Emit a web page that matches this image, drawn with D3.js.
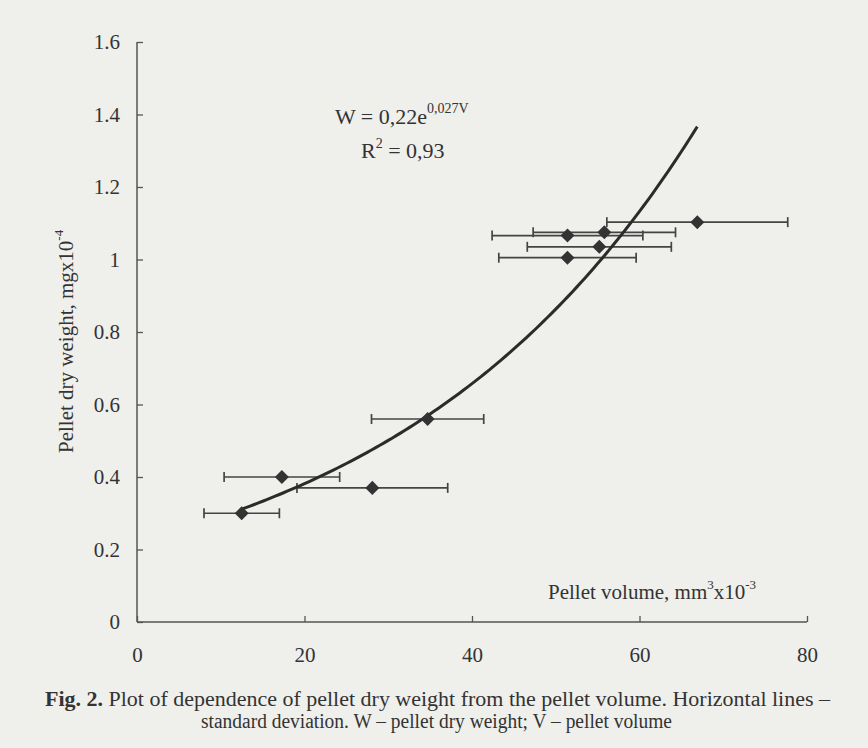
<!DOCTYPE html>
<html>
<head>
<meta charset="utf-8">
<script src="https://cdn.jsdelivr.net/npm/d3@7"></script>
<style>
  html, body { margin: 0; padding: 0; background: #efefec; }
  svg { display: block; }
  text { font-family: "Liberation Serif", "DejaVu Serif", serif; fill: #333; }
</style>
</head>
<body>
<svg id="chart" width="868" height="748"></svg>
<script>
// ---- data ----
const volume   = [12.5, 17.3, 28.1, 34.7, 51.4, 55.2, 51.4, 55.8, 66.9];   // V, mm3 x10^-3
const weight   = [0.30, 0.40, 0.37, 0.56, 1.005, 1.035, 1.066, 1.075, 1.103]; // W, mg x10^-4
const volumeSD = [4.5, 6.9, 9.0, 6.7, 8.2, 8.6, 9.0, 8.5, 10.8];           // horizontal SD
const xTicks = [0, 20, 40, 60, 80];
const yTicks = [0, 0.2, 0.4, 0.6, 0.8, 1, 1.2, 1.4, 1.6];
const yTickLabels = ["0", "0.2", "0.4", "0.6", "0.8", "1", "1.2", "1.4", "1.6"];
const trendA = 0.2215, trendB = 0.0272; // W = 0,22 e^(0,027V)
const trendRange = [12.5, 66.9];

const svg = d3.select("#chart");
const x = d3.scaleLinear().domain([0, 80]).range([137, 807]);
const y = d3.scaleLinear().domain([0, 1.6]).range([622, 42]);

const axisColor = "#555";

// y axis
const yAxis = d3.axisLeft(y).tickValues(yTicks).tickSize(-6).tickFormat((d, i) => yTickLabels[i]).tickPadding(17);
const gy = svg.append("g").attr("transform", `translate(${x(0)},0)`).call(yAxis);
gy.select(".domain").attr("stroke", axisColor).attr("stroke-width", 1.5).attr("d", `M0,${y(1.6)}V${y(0)}`);
gy.selectAll(".tick line").attr("stroke", axisColor).attr("stroke-width", 1.3);
gy.selectAll(".tick text").attr("font-size", 21).attr("font-family", "Liberation Serif").attr("fill", "#383838");

// x axis
const xAxis = d3.axisBottom(x).tickValues(xTicks).tickSize(-6).tickFormat(d3.format("d")).tickPadding(25);
const gx = svg.append("g").attr("transform", `translate(0,${y(0)})`).call(xAxis);
gx.select(".domain").attr("stroke", axisColor).attr("stroke-width", 1.5).attr("d", `M${x(0)},0H${x(80)}`);
gx.selectAll(".tick line").attr("stroke", axisColor).attr("stroke-width", 1.3);
gx.selectAll(".tick text").attr("font-size", 21).attr("font-family", "Liberation Serif").attr("fill", "#383838");

// error bars
const eb = svg.append("g").attr("stroke", "#444").attr("stroke-width", 1.7);
volume.forEach((v, i) => {
  const yy = y(weight[i]);
  eb.append("line").attr("x1", x(v - volumeSD[i])).attr("x2", x(v + volumeSD[i])).attr("y1", yy).attr("y2", yy);
  eb.append("line").attr("x1", x(v - volumeSD[i])).attr("x2", x(v - volumeSD[i])).attr("y1", yy - 5).attr("y2", yy + 5);
  eb.append("line").attr("x1", x(v + volumeSD[i])).attr("x2", x(v + volumeSD[i])).attr("y1", yy - 5).attr("y2", yy + 5);
});

// trend line
const tv = d3.range(trendRange[0], trendRange[1] + 0.001, 0.5);
if (tv[tv.length - 1] < trendRange[1]) tv.push(trendRange[1]);
const line = d3.line().x(v => x(v)).y(v => y(trendA * Math.exp(trendB * v))).curve(d3.curveBasis);
svg.append("path").datum(tv).attr("d", line).attr("fill", "none").attr("stroke", "#2b2b2b").attr("stroke-width", 3);

// markers (diamonds)
svg.append("g").selectAll("path").data(volume).join("path")
  .attr("transform", (v, i) => `translate(${x(v)},${y(weight[i])})`)
  .attr("d", d3.symbol().type(d3.symbolDiamond2).size(125))
  .attr("fill", "#333");

// equation
const eq = svg.append("text").attr("x", 335).attr("y", 124).attr("font-size", 22);
eq.append("tspan").text("W = 0,22e");
eq.append("tspan").attr("dy", -11).attr("font-size", 14).text("0,027V");
const r2 = svg.append("text").attr("x", 361).attr("y", 158).attr("font-size", 22);
r2.append("tspan").text("R");
r2.append("tspan").attr("dy", -10).attr("font-size", 14).text("2");
r2.append("tspan").attr("dy", 10).text(" = 0,93");

// axis titles
const yt = svg.append("text").attr("transform", "translate(73,453) rotate(-90)").attr("font-size", 21);
yt.append("tspan").text("Pellet dry weight, mgx10");
yt.append("tspan").attr("dy", -10).attr("font-size", 13).text("-4");

const xt = svg.append("text").attr("x", 548).attr("y", 599).attr("font-size", 21);
xt.append("tspan").text("Pellet volume, mm");
xt.append("tspan").attr("dy", -10).attr("font-size", 13).text("3");
xt.append("tspan").attr("dy", 10).text("x10");
xt.append("tspan").attr("dy", -10).attr("font-size", 13).text("-3");

// caption
const c1 = svg.append("text").attr("x", 45).attr("y", 706).attr("font-size", 20)
  .attr("textLength", 785).attr("lengthAdjust", "spacingAndGlyphs");
c1.append("tspan").attr("font-weight", "bold").text("Fig. 2.");
c1.append("tspan").text(" Plot of dependence of pellet dry weight from the pellet volume. Horizontal lines –");
svg.append("text").attr("x", 201).attr("y", 728).attr("font-size", 20)
  .attr("textLength", 471).attr("lengthAdjust", "spacingAndGlyphs")
  .text("standard deviation. W – pellet dry weight; V – pellet volume");
</script>
</body>
</html>
